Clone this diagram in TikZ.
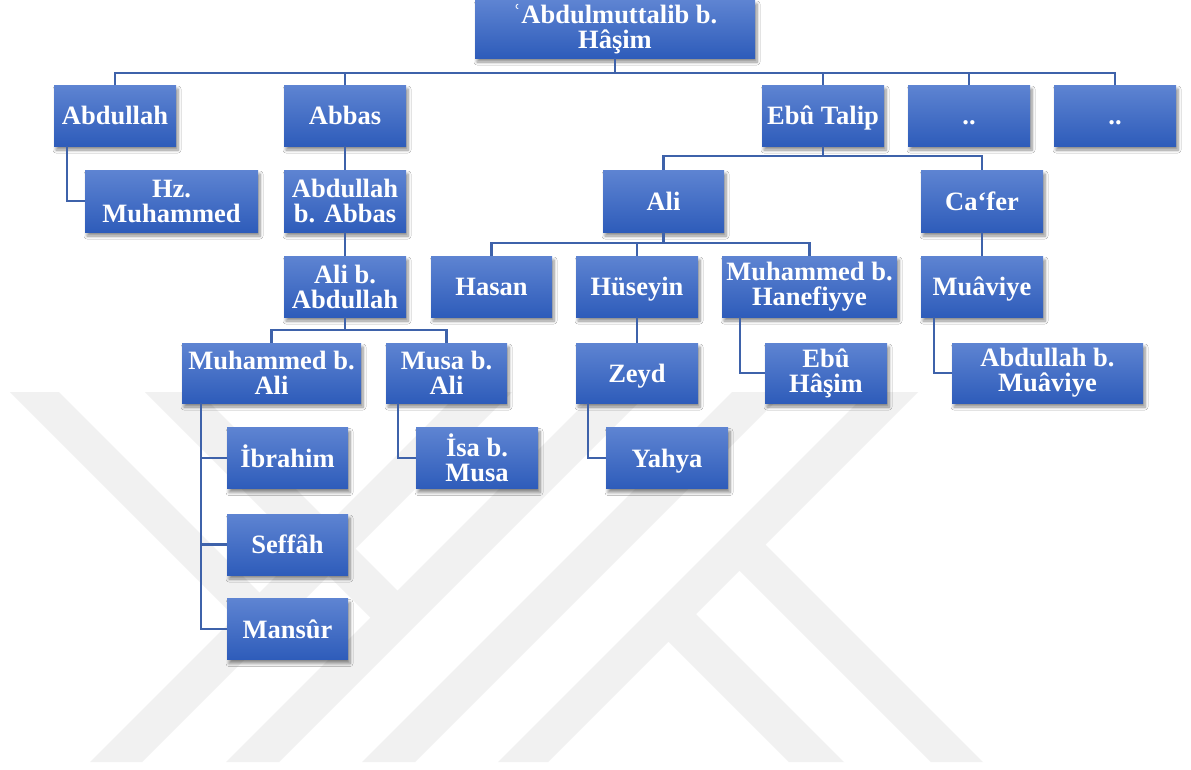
\documentclass[tikz,border=0pt]{standalone}
\usepackage{fontspec}
\setmainfont{Liberation Serif}
\usetikzlibrary{shadows.blur,calc}
\definecolor{boxtop}{RGB}{94,132,210}
\definecolor{boxmid}{RGB}{62,106,200}
\definecolor{boxbot}{RGB}{46,92,186}
\definecolor{linec}{RGB}{62,98,170}
\definecolor{wm}{RGB}{241,241,241}
\begin{document}
\begin{tikzpicture}[x=1pt,y=-1pt,
  box/.style={rectangle, top color=boxtop, middle color=boxmid, bottom color=boxbot,
    text=white, font=\bfseries\fontsize{26.5pt}{25pt}\selectfont, align=center, inner sep=0pt,
    blur shadow={shadow xshift=2pt,shadow yshift=-4pt,shadow blur steps=6,shadow blur radius=3pt,shadow opacity=45}},
  one/.style={text height=18pt, text depth=0pt},
  sz/.style 2 args={minimum width=#1, minimum height=#2},
  conn/.style={draw=linec, line width=2.5pt},
  wmark/.style={fill=wm, draw=none}]
\useasboundingbox (0,0) rectangle (1191,769);
\fill[white] (0,0) rectangle (1191,769);
% watermark
\fill[wmark] (460,392) -- (512,392) -- (142,762) -- (90,762) -- cycle;
\fill[wmark] (596,392) -- (649,392) -- (279,762) -- (226,762) -- cycle;
\fill[wmark] (732,392) -- (785,392) -- (415,762) -- (362,762) -- cycle;
\fill[wmark] (868,392) -- (918,392) -- (548,762) -- (498,762) -- cycle;
\fill[wmark] (10,392) -- (59,392) -- (272.5,605.5) -- (248,630) -- cycle;
\fill[wmark] (145,392) -- (199,392) -- (410.5,603.5) -- (383.5,630.5) -- cycle;
\fill[wmark] (753,532) -- (983,762) -- (931,762) -- (727,558) -- cycle;
\fill[wmark] (683.5,601.5) -- (844,762) -- (789,762) -- (656,629) -- cycle;
% nodes
\node[box, sz={280pt}{58pt}] (top) at (615,29) {ʿAbdulmuttalib b.\\Hâşim};
\node[box, one, sz={122pt}{61pt}] (abdullah) at (115,115.5) {Abdullah};
\node[box, one, sz={122pt}{61pt}] (abbas) at (345,115.5) {Abbas};
\node[box, one, sz={122pt}{61pt}] (ebutalip) at (823,115.5) {Ebû Talip};
\node[box, one, sz={122pt}{61pt}] (dotsa) at (969,115.5) {..};
\node[box, one, sz={122pt}{61pt}] (dotsb) at (1115,115.5) {..};
\node[box, sz={173pt}{62pt}] (hzm) at (171.5,201) {Hz.\\Muhammed};
\node[box, sz={122pt}{62pt}] (abdabbas) at (345,201) {Abdullah\\b. Abbas};
\node[box, one, sz={121pt}{62pt}] (ali) at (663.5,201) {Ali};
\node[box, one, sz={122pt}{62pt}] (cafer) at (982,201) {Ca‘fer};
\node[box, sz={122pt}{61pt}] (alibabd) at (345,286.5) {Ali b.\\Abdullah};
\node[box, one, sz={121pt}{61pt}] (hasan) at (491.5,286.5) {Hasan};
\node[box, one, sz={122pt}{61pt}] (huseyin) at (637,286.5) {Hüseyin};
\node[box, sz={175pt}{61pt}] (mbh) at (809.5,286.5) {Muhammed b.\\Hanefiyye};
\node[box, one, sz={122pt}{61pt}] (muaviye) at (982,286.5) {Muâviye};
\node[box, sz={179pt}{60pt}] (mbali) at (271.5,373) {Muhammed b.\\Ali};
\node[box, sz={121pt}{60pt}] (musa) at (446.5,373) {Musa b.\\Ali};
\node[box, one, sz={122pt}{60pt}] (zeyd) at (637,373) {Zeyd};
\node[box, sz={122pt}{60pt}] (ebuhasim) at (826,373) {Ebû\\Hâşim};
\node[box, sz={191pt}{60pt}] (abdmuaviye) at (1047.5,373) {Abdullah b.\\Muâviye};
\node[box, one, sz={121pt}{61pt}] (ibrahim) at (287.5,458) {İbrahim};
\node[box, sz={122pt}{61pt}] (isa) at (477,458) {İsa b.\\Musa};
\node[box, one, sz={122pt}{61pt}] (yahya) at (667,458) {Yahya};
\node[box, one, sz={121pt}{61pt}] (seffah) at (287.5,544.5) {Seffâh};
\node[box, one, sz={121pt}{61pt}] (mansur) at (287.5,629) {Mansûr};
% connectors
\coordinate (b0) at (615,73);
\foreach \c in {abdullah,abbas,ebutalip,dotsa,dotsb}
  \draw[conn] (top.south) -- (b0) -| (\c.north);
\draw[conn] ($(abdullah.south west)+(13,0)$) |- (hzm.west);
\draw[conn] (abbas.south) -- (abdabbas.north);
\coordinate (b1) at (823,156);
\foreach \c in {ali,cafer}
  \draw[conn] (ebutalip.south) -- (b1) -| (\c.north);
\draw[conn] (abdabbas.south) -- (alibabd.north);
\coordinate (b2) at (663.5,243);
\foreach \c in {hasan,huseyin,mbh}
  \draw[conn] (ali.south) -- (b2) -| (\c.north);
\draw[conn] (cafer.south) -- (muaviye.north);
\coordinate (b3) at (345,330);
\foreach \c in {mbali,musa}
  \draw[conn] (alibabd.south) -- (b3) -| (\c.north);
\draw[conn] (huseyin.south) -- (zeyd.north);
\draw[conn] ($(mbh.south west)+(18,0)$) |- (ebuhasim.west);
\draw[conn] ($(muaviye.south west)+(13,0)$) |- (abdmuaviye.west);
\foreach \c in {ibrahim,seffah,mansur}
  \draw[conn] ($(mbali.south west)+(19,0)$) |- (\c.west);
\draw[conn] ($(musa.south west)+(12,0)$) |- (isa.west);
\draw[conn] ($(zeyd.south west)+(12,0)$) |- (yahya.west);
\end{tikzpicture}
\end{document}
